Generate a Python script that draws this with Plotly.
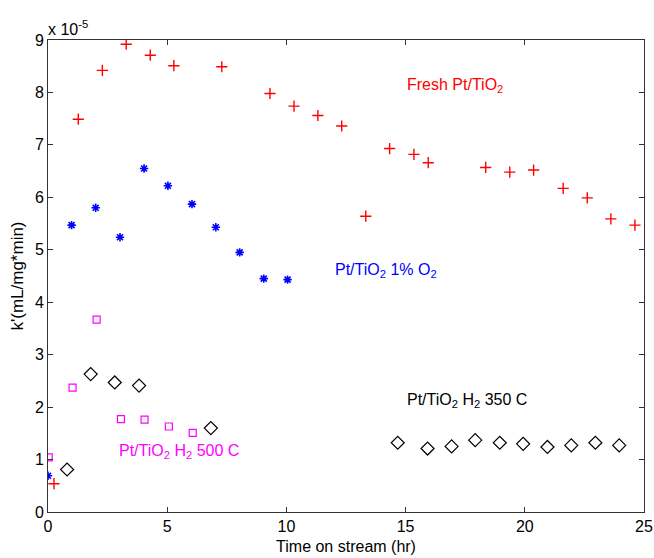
import plotly.graph_objects as go

# Data (y values in units of 1e-5 mL/mg*min)
fresh_x = [0.25, 1.27, 2.28, 3.28, 4.29, 5.28, 7.29, 9.31, 10.32, 11.32, 12.32, 13.33,
           14.33, 15.35, 15.95, 18.36, 19.37, 20.37, 21.61, 22.62, 23.61, 24.62]
fresh_y = [0.54, 7.49, 8.42, 8.92, 8.71, 8.51, 8.49, 7.98, 7.74, 7.56, 7.36, 5.64,
           6.93, 6.82, 6.66, 6.57, 6.48, 6.52, 6.17, 5.99, 5.59, 5.47]

o2_x = [0.0, 0.99, 2.0, 3.02, 4.03, 5.03, 6.04, 7.04, 8.04, 9.05, 10.05]
o2_y = [0.69, 5.47, 5.80, 5.24, 6.55, 6.22, 5.87, 5.43, 4.95, 4.45, 4.43]

h500_x = [0.03, 1.03, 2.04, 3.06, 4.05, 5.07, 6.07]
h500_y = [1.04, 2.37, 3.67, 1.77, 1.76, 1.63, 1.51]

h350_x = [0.80, 1.79, 2.80, 3.82, 6.83, 14.67, 15.92, 16.93, 17.92, 18.95, 19.93,
          20.95, 21.95, 22.96, 23.96]
h350_y = [0.81, 2.63, 2.47, 2.41, 1.60, 1.32, 1.21, 1.25, 1.37, 1.32, 1.30,
          1.24, 1.27, 1.32, 1.27]

scale = 1e-5
x_ticks = [0, 5, 10, 15, 20, 25]
y_ticks = [0, 1, 2, 3, 4, 5, 6, 7, 8, 9]

FONT = "Liberation Sans, Arial, Helvetica, sans-serif"

fig = go.Figure()
fig.add_trace(go.Scatter(x=fresh_x, y=[v * scale for v in fresh_y], mode="markers",
                         marker=dict(symbol="cross-thin", size=8, color="#ff0000",
                                     line=dict(color="#ff0000", width=1.4))))
fig.add_trace(go.Scatter(x=o2_x, y=[v * scale for v in o2_y], mode="markers",
                         marker=dict(symbol="asterisk", size=7, color="#0000ff",
                                     line=dict(color="#0000ff", width=1.6))))
fig.add_trace(go.Scatter(x=h500_x, y=[v * scale for v in h500_y], mode="markers",
                         marker=dict(symbol="square-open", size=7, color="#ff00ff",
                                     line=dict(color="#ff00ff", width=1.2))))
fig.add_trace(go.Scatter(x=h350_x, y=[v * scale for v in h350_y], mode="markers",
                         marker=dict(symbol="diamond-open", size=10, color="#000000",
                                     line=dict(color="#000000", width=1.2))))

anns = [
    dict(x=15.1, y=8.14 * scale, text="Fresh Pt/TiO<sub>2</sub>", color="#ff0000"),
    dict(x=12.1, y=4.61 * scale, text="Pt/TiO<sub>2</sub> 1% O<sub>2</sub>", color="#0000ff"),
    dict(x=3.0, y=1.15 * scale, text="Pt/TiO<sub>2</sub> H<sub>2</sub> 500 C", color="#ff00ff"),
    dict(x=15.1, y=2.13 * scale, text="Pt/TiO<sub>2</sub> H<sub>2</sub> 350 C", color="#000000"),
]
for a in anns:
    fig.add_annotation(x=a["x"], y=a["y"], text=a["text"], showarrow=False,
                       xanchor="left", yanchor="middle", xshift=-3,
                       font=dict(family=FONT, size=16, color=a["color"]))

fig.add_annotation(xref="paper", yref="paper", x=0, y=1, xanchor="left", yanchor="bottom",
                   xshift=-2, yshift=0, text="x 10<sup>-5</sup>", showarrow=False,
                   font=dict(family=FONT, size=16, color="#000000"))

fig.update_layout(
    width=654, height=558,
    margin=dict(l=48, r=10, t=40, b=46),
    paper_bgcolor="white", plot_bgcolor="white",
    showlegend=False,
    font=dict(family=FONT, size=16, color="#000000"),
)
fig.update_xaxes(range=[0, 25], tickvals=x_ticks, ticktext=[str(t) for t in x_ticks],
                 ticks="inside", ticklen=5, tickcolor="#333333", showgrid=False, zeroline=False,
                 showline=True, linecolor="#333333", linewidth=1, mirror="ticks",
                 automargin=False,
                 title=dict(text="Time on stream (hr)", font=dict(family=FONT, size=16), standoff=6),
                 tickfont=dict(family=FONT, size=16))
fig.update_yaxes(range=[0, 9 * scale], tickvals=[t * scale for t in y_ticks],
                 ticktext=[str(t) for t in y_ticks],
                 ticks="inside", ticklen=5, tickcolor="#333333", showgrid=False, zeroline=False,
                 showline=True, linecolor="#333333", linewidth=1, mirror="ticks",
                 automargin=False,
                 title=dict(text="k'(mL/mg*min)", font=dict(family=FONT, size=17), standoff=6),
                 tickfont=dict(family=FONT, size=16))

fig.write_html("out.html", config={"displayModeBar": False},
               post_script="document.body.style.margin='0';document.body.style.overflow='hidden';")
